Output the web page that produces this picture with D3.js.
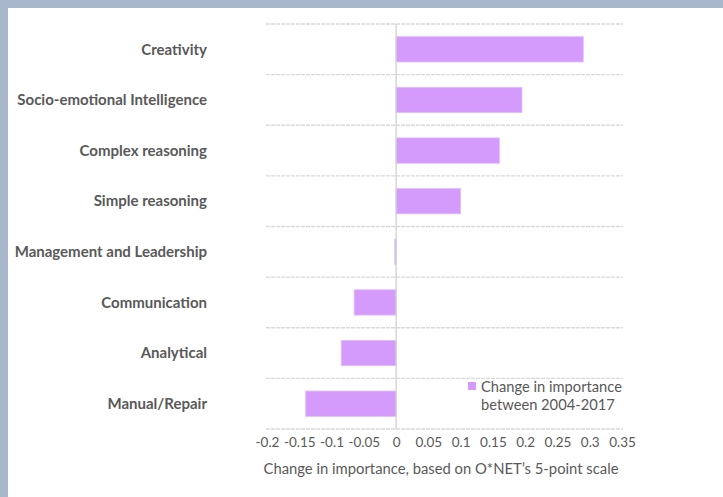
<!DOCTYPE html>
<html>
<head>
<meta charset="utf-8">
<script src="https://cdn.jsdelivr.net/npm/d3@7"></script>
<style>
  html, body { margin: 0; padding: 0; background: #a9b7ca; }
  svg { display: block; }
  text { font-family: Lato, "Open Sans", sans-serif; }
</style>
</head>
<body>
<svg id="chart" width="723" height="497"></svg>
<script>
// Skill categories, top to bottom
const categories = [
  "Creativity",
  "Socio-emotional Intelligence",
  "Complex reasoning",
  "Simple reasoning",
  "Management and Leadership",
  "Communication",
  "Analytical",
  "Manual/Repair"
];
// Change in importance between 2004 and 2017
const changes = [0.29, 0.195, 0.16, 0.1, -0.002, -0.065, -0.085, -0.14];
const tickValues = [-0.2, -0.15, -0.1, -0.05, 0, 0.05, 0.1, 0.15, 0.2, 0.25, 0.3, 0.35];
const tickLabels = ["-0.2", "-0.15", "-0.1", "-0.05", "0", "0.05", "0.1", "0.15", "0.2", "0.25", "0.3", "0.35"];
const legendLines = ["Change in importance", "between 2004-2017"];
const axisTitle = "Change in importance, based on O*NET\u2019s 5-point scale";

const svg = d3.select("#chart");

// white panel inside the blue-grey frame
svg.append("rect").attr("x", 8).attr("y", 8).attr("width", 715).attr("height", 489).attr("fill", "#ffffff");

const x = d3.scaleLinear().domain([-0.2, 0.35]).range([267, 622]);
const y = d3.scaleBand().domain(categories).range([24, 429]).paddingInner(0.5).paddingOuter(0.25);
const band = (429 - 24) / categories.length;

// horizontal gridlines between categories
const gridYs = d3.range(categories.length + 1).map(i => 24 + i * band);
svg.append("g").selectAll("line").data(gridYs).join("line")
  .attr("x1", 266).attr("x2", 623)
  .attr("y1", d => d).attr("y2", d => d)
  .attr("stroke", "#d9d9d9").attr("stroke-width", 1.3)
  .attr("stroke-dasharray", "4,1");

// bars
svg.append("g").selectAll("rect").data(categories).join("rect")
  .attr("x", (d, i) => x(Math.min(0, changes[i])))
  .attr("y", d => y(d))
  .attr("width", (d, i) => Math.abs(x(changes[i]) - x(0)))
  .attr("height", y.bandwidth())
  .attr("fill", "#d49bfd")
  .attr("stroke", "#e2bcfe").attr("stroke-width", 0.8);

// zero axis line
svg.append("line")
  .attr("x1", x(0)).attr("x2", x(0))
  .attr("y1", 24).attr("y2", 429)
  .attr("stroke", "#d0d0d0").attr("stroke-width", 1.3);

// category labels
svg.append("g").selectAll("text").data(categories).join("text")
  .attr("x", 207)
  .attr("y", d => y(d) + y.bandwidth() / 2)
  .attr("dy", "0.35em")
  .attr("text-anchor", "end")
  .attr("font-size", 15)
  .attr("font-weight", "bold")
  .attr("fill", "#595959")
  .text(d => d);

// x axis tick labels
const axis = d3.axisBottom(x).tickValues(tickValues)
  .tickFormat((d, i) => tickLabels[i]).tickSize(0).tickPadding(0);
const ax = svg.append("g").attr("transform", "translate(0,442)").call(axis);
ax.select(".domain").remove();
ax.selectAll("text")
  .attr("dy", "0.35em").attr("y", 0)
  .attr("font-size", 13.5)
  .attr("fill", "#595959")
  .style("font-family", "Lato, 'Open Sans', sans-serif");

// axis title
svg.append("text")
  .attr("x", 441).attr("y", 469)
  .attr("dy", "0.35em")
  .attr("text-anchor", "middle")
  .attr("font-size", 14.8)
  .attr("fill", "#595959")
  .text(axisTitle);

// legend
svg.append("rect").attr("x", 468).attr("y", 382).attr("width", 8).attr("height", 8).attr("fill", "#d49bfd");
svg.append("g").selectAll("text").data(legendLines).join("text")
  .attr("x", 481).attr("y", (d, i) => 387 + i * 18)
  .attr("dy", "0.35em")
  .attr("font-size", 14.7)
  .attr("fill", "#595959")
  .text(d => d);
</script>
</body>
</html>
